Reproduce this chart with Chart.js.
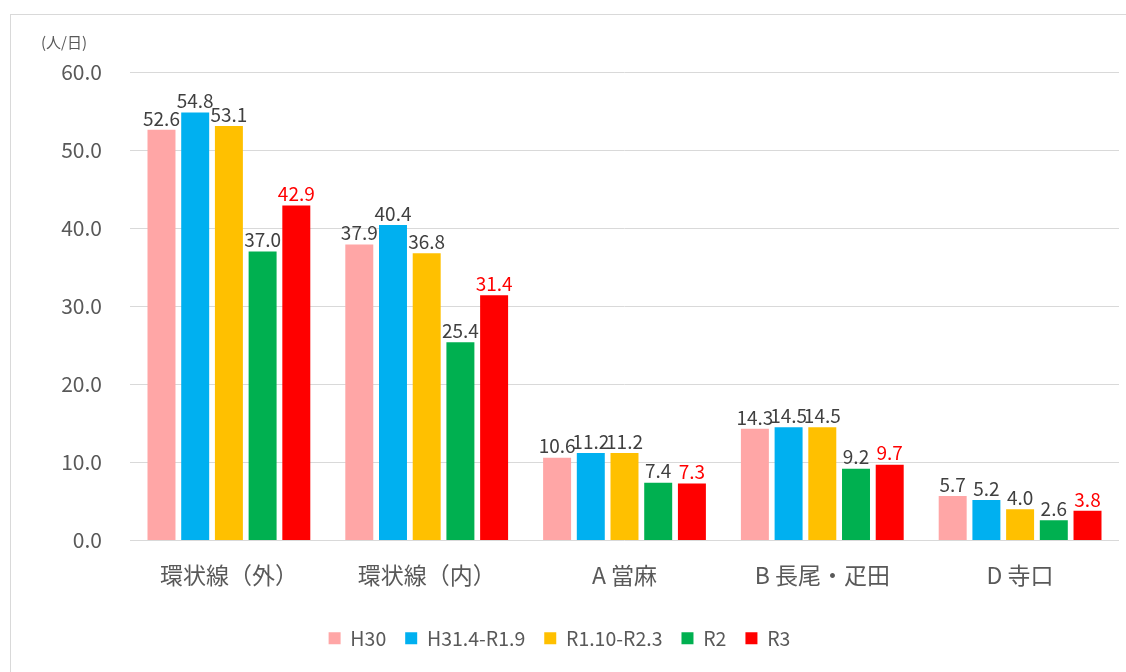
<!DOCTYPE html>
<html><head><meta charset="utf-8">
<script src="https://cdn.jsdelivr.net/npm/chart.js@4.4.0/dist/chart.umd.min.js"></script>
<style>
html,body{margin:0;padding:0;background:#fff;}
#frame{position:absolute;left:10px;top:14px;width:1200px;height:700px;border:1px solid #d9d9d9;box-sizing:border-box;}
#wrap{position:absolute;left:0;top:0;width:1126px;height:672px;}
#unit{position:absolute;left:41px;top:31px;font:15px "Noto Sans CJK JP",sans-serif;color:#595959;}
</style></head><body>
<div id="frame"></div>
<div id="wrap"><canvas id="c" width="1126" height="672"></canvas></div>
<div id="unit">(人/日)</div>
<script>
const categories = ["環状線（外）","環状線（内）","A 當麻","B 長尾・疋田","D 寺口"];
const seriesNames = ["H30","H31.4-R1.9","R1.10-R2.3","R2","R3"];
const H30 = [52.6,37.9,10.6,14.3,5.7];
const H31 = [54.8,40.4,11.2,14.5,5.2];
const R110 = [53.1,36.8,11.2,14.5,4.0];
const R2 = [37.0,25.4,7.4,9.2,2.6];
const R3 = [42.9,31.4,7.3,9.7,3.8];
const yTicks = [0,10,20,30,40,50,60];
const colors = ["#ffa6a6","#00b0f0","#ffc000","#00b050","#ff0000"];
const labelColors = ["#404040","#404040","#404040","#404040","#ff0000"];
const FONT = '"Noto Sans CJK JP", sans-serif';

const labelPlugin = {
  id:'vals',
  afterDatasetsDraw(chart){
    const ctx = chart.ctx;
    ctx.save();
    ctx.font = '19px ' + FONT;
    ctx.textAlign = 'center';
    ctx.textBaseline = 'bottom';
    chart.data.datasets.forEach((ds,i)=>{
      const meta = chart.getDatasetMeta(i);
      ctx.fillStyle = labelColors[i];
      meta.data.forEach((bar,j)=>{
        ctx.fillText(ds.data[j].toFixed(1), bar.x, bar.y - 2);
      });
    });
    ctx.restore();
  }
};

new Chart(document.getElementById('c'),{
  type:'bar',
  data:{
    labels:categories,
    datasets:[H30,H31,R110,R2,R3].map((d,i)=>({label:seriesNames[i],data:d,backgroundColor:colors[i],categoryPercentage:0.852,barPercentage:0.83}))
  },
  options:{
    responsive:false,animation:false,
    layout:{padding:{left:0,right:7,top:72,bottom:14}},
    plugins:{
      legend:{position:'bottom',labels:{boxWidth:12,boxHeight:12,padding:19,color:'#595959',font:{family:FONT,size:19.5}}},
      tooltip:{enabled:false}
    },
    scales:{
      x:{grid:{display:false},border:{display:false},ticks:{color:'#595959',font:{family:FONT,size:23},padding:13},
         afterFit(s){s.height=69;}},
      y:{min:0,max:60,afterBuildTicks(s){s.ticks=yTicks.map(v=>({value:v}));},
         grid:{color:'#d9d9d9',lineWidth:1,drawTicks:false},border:{display:false},
         ticks:{color:'#595959',font:{family:FONT,size:21},padding:28,callback:v=>v.toFixed(1)},
         afterFit(s){s.width=130;}}
    }
  },
  plugins:[labelPlugin]
});
</script></body></html>
